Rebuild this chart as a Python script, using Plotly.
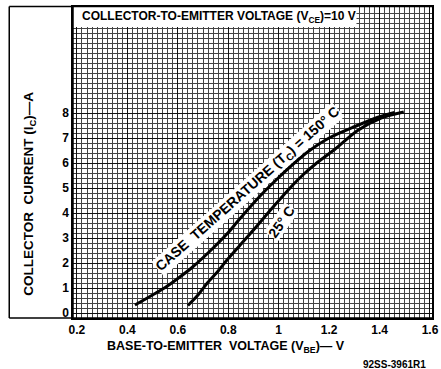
import plotly.graph_objects as go

# Data
vbe_150 = [0.43, 0.50, 0.55, 0.60, 0.654, 0.73, 0.80, 0.84, 0.93, 1.00, 1.06, 1.12, 1.20, 1.30, 1.40, 1.46]
ic_150 = [0.32, 0.72, 1.02, 1.38, 1.8, 2.5, 3.22, 3.7, 4.72, 5.42, 5.98, 6.48, 7.0, 7.45, 7.85, 8.02]

vbe_25 = [0.64, 0.68, 0.717, 0.76, 0.795, 0.85, 0.90, 0.978, 1.056, 1.10, 1.146, 1.223, 1.313, 1.406, 1.496]
ic_25 = [0.3, 0.72, 1.2, 1.68, 2.12, 2.75, 3.32, 4.24, 5.12, 5.56, 5.96, 6.55, 7.3, 7.8, 8.04]

x_ticks = [0.2, 0.4, 0.6, 0.8, 1.0, 1.2, 1.4, 1.6]
x_tick_text = ["0.2", "0.4", "0.6", "0.8", "1", "1.2", "1.4", "1.6"]
y_ticks = [0, 1, 2, 3, 4, 5, 6, 7, 8]

FONT = "Liberation Sans"

fig = go.Figure()
fig.add_trace(go.Scatter(x=vbe_150, y=ic_150, mode="lines", line=dict(color="black", width=3, shape="spline", smoothing=0.8),
                         showlegend=False, hoverinfo="skip"))
fig.add_trace(go.Scatter(x=vbe_25, y=ic_25, mode="lines", line=dict(color="black", width=3, shape="spline", smoothing=0.8),
                         showlegend=False, hoverinfo="skip"))

W, H = 441, 369
L, R, T, B = 73, 2, 7, 51
pw = W - L - R
ph = H - T - B

def px(xp):
    return (xp - L) / pw

def py(yp):
    return (H - B - yp) / ph

fig.update_layout(
    width=W, height=H,
    margin=dict(l=L, r=R, t=T, b=B),
    paper_bgcolor="white", plot_bgcolor="white",
    font=dict(family=FONT, color="black", size=11),
    xaxis=dict(range=[0.1844, 1.608], tickvals=x_ticks, ticktext=["<b>%s</b>" % t for t in x_tick_text],
               showgrid=True, gridcolor="#111", gridwidth=1,
               minor=dict(dtick=0.02, tick0=0.2, showgrid=True, gridcolor="#444", gridwidth=1, ticks=""),
               showline=True, linecolor="black", linewidth=1.5, mirror=True, ticks="", zeroline=False,
               ticklabeloverflow="allow",
               tickfont=dict(size=12, family=FONT)),
    yaxis=dict(range=[-0.2, 12.24], tickvals=y_ticks, ticktext=["<b>%d</b>" % t for t in y_ticks],
               showgrid=True, gridcolor="#111", gridwidth=1,
               minor=dict(dtick=0.2, tick0=0, showgrid=True, gridcolor="#444", gridwidth=1, ticks=""),
               showline=True, linecolor="black", linewidth=1.5, mirror=True, ticks="", zeroline=False,
               ticklabelstandoff=0,
               tickfont=dict(size=12, family=FONT)),
    shapes=[
        dict(type="rect", xref="paper", yref="paper", x0=0, x1=px(362), y0=py(27), y1=py(6.5),
             fillcolor="white", line=dict(width=0), layer="above"),
        dict(type="line", xref="paper", yref="paper", x0=px(8), x1=px(8), y0=py(318), y1=py(6.5),
             line=dict(color="black", width=1.5)),
        dict(type="line", xref="paper", yref="paper", x0=px(8), x1=1, y0=py(6.5), y1=py(6.5),
             line=dict(color="black", width=1.5)),
        dict(type="line", xref="paper", yref="paper", x0=px(8), x1=1, y0=py(318), y1=py(318),
             line=dict(color="black", width=1.5)),
        dict(type="line", xref="paper", yref="paper", x0=0, x1=0, y0=py(318), y1=py(6.5),
             line=dict(color="black", width=1.5)),
    ],
    annotations=[
        dict(text="<b>COLLECTOR-TO-EMITTER VOLTAGE (V<sub>CE</sub>)=10 V</b>", xref="paper", yref="paper",
             x=px(80), y=py(17), xanchor="left", yanchor="middle", showarrow=False,
             font=dict(size=12, family=FONT)),
        dict(text="<b>COLLECTOR  CURRENT (I<sub>C</sub>)—A</b>", xref="paper", yref="paper",
             x=px(28), y=py(194), xanchor="center", yanchor="middle", showarrow=False, textangle=-90,
             font=dict(size=13.5, family=FONT)),
        dict(text="<b>BASE-TO-EMITTER  VOLTAGE (V<sub>BE</sub>)— V</b>", xref="paper", yref="paper",
             x=px(229), y=py(347), xanchor="center", yanchor="middle", showarrow=False,
             font=dict(size=12.5, family=FONT)),
        dict(text="<b>92SS-3961R1</b>", xref="paper", yref="paper",
             x=px(401), y=py(364), xanchor="center", yanchor="middle", showarrow=False,
             font=dict(size=10, family=FONT)),
        dict(text="<b>CASE  TEMPERATURE (T<sub>C</sub>) = 150° C</b>", xref="x", yref="y",
             x=0.88, y=4.95, showarrow=False, textangle=-41.5, bgcolor="white", borderpad=0,
             font=dict(size=14, family=FONT)),
        dict(text="<b>25° C</b>", xref="x", yref="y",
             x=1.01, y=3.64, showarrow=False, textangle=-55, bgcolor="white", borderpad=0,
             font=dict(size=14, family=FONT)),
    ],
)

fig.write_html("out.html", config={"displayModeBar": False},
               post_script="document.body.style.margin='0';document.body.style.padding='0';")
